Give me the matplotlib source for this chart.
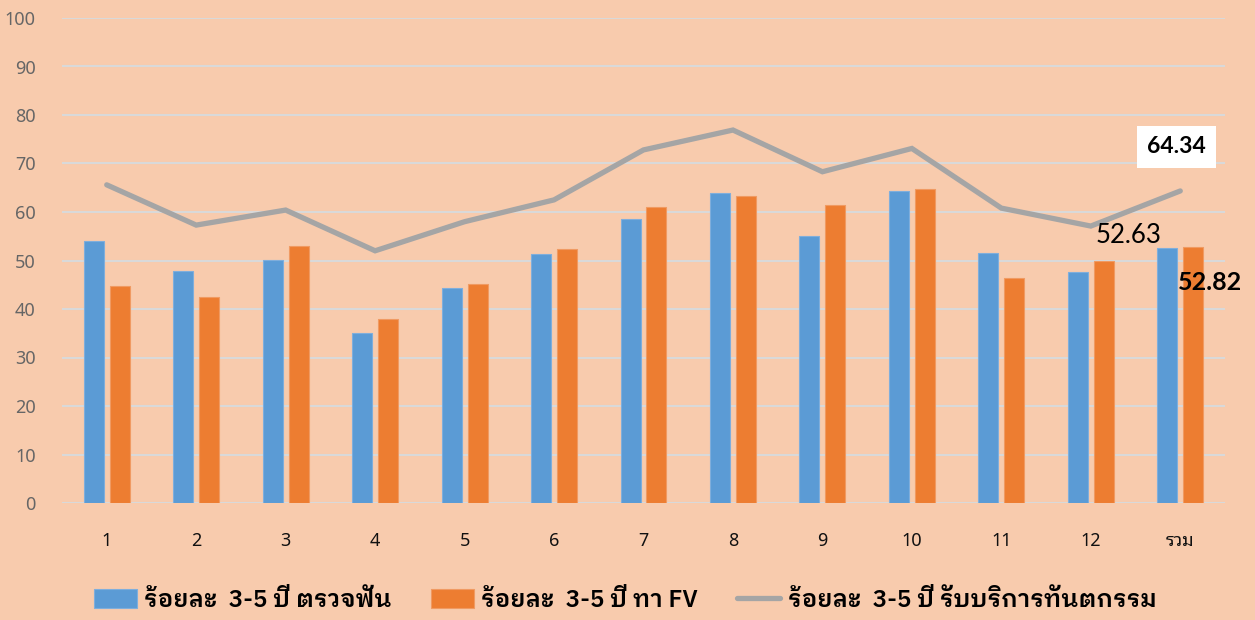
import numpy as np
import matplotlib
matplotlib.use("Agg")
import matplotlib.pyplot as plt

plt.rcParams['font.family'] = ['Noto Sans Thai Looped', 'Noto Sans', 'DejaVu Sans']

categories = ['1', '2', '3', '4', '5', '6', '7', '8', '9', '10', '11', '12', 'รวม']
checkup = [54.0, 47.8, 50.1, 35.1, 44.3, 51.3, 58.6, 63.9, 55.0, 64.3, 51.5, 47.6, 52.63]
fv = [44.8, 42.4, 52.9, 37.9, 45.2, 52.3, 61.0, 63.4, 61.4, 64.7, 46.4, 50.0, 52.82]
service = [65.6, 57.3, 60.4, 52.0, 58.0, 62.5, 72.8, 76.9, 68.3, 73.1, 60.8, 57.1, 64.34]
names = ['ร้อยละ  3-5 ปี ตรวจฟัน', 'ร้อยละ  3-5 ปี ทา FV', 'ร้อยละ  3-5 ปี รับบริการทันตกรรม']

bg = '#F8CBAD'
blue = '#5B9BD5'
orange = '#ED7D31'
grey = '#A5A5A5'

fig = plt.figure(figsize=(12.55, 6.2), dpi=100, facecolor=bg)
ax = fig.add_axes([62/1255, 117/620, 1163/1255, 485/620])
ax.set_facecolor(bg)

x = np.arange(len(categories))
w = 0.223
off = 0.145
b1 = ax.bar(x - off, checkup, w, color=blue, edgecolor='#7FAEDC', linewidth=0.8, zorder=2, label=names[0])
b2 = ax.bar(x + off, fv, w, color=orange, edgecolor='#F09A62', linewidth=0.8, zorder=2, label=names[1])
l3, = ax.plot(x, service, color=grey, linewidth=3.8, solid_capstyle='round', solid_joinstyle='miter',
              zorder=3, label=names[2])

ax.set_xlim(-0.5, len(categories) - 0.5)
ax.set_ylim(0, 100)
ax.set_yticks(np.arange(0, 101, 10))
ax.set_xticks(x)
ax.set_xticklabels(categories)
ax.yaxis.grid(True, color='#D9D9D9', linewidth=1.5, zorder=0)
ax.set_axisbelow(True)
for s in ax.spines.values():
    s.set_visible(False)
ax.tick_params(axis='y', length=0, pad=19, labelsize=13, labelcolor='#666666')
ax.tick_params(axis='x', length=0, pad=21, labelsize=13, labelcolor='#111111')

# data labels on the last category
num_font = ['Lato', 'DejaVu Sans']
i = len(categories) - 1
ax.annotate(f'{checkup[i]:.2f}', (x[i] - off, checkup[i]), xytext=(-39, 0),
            textcoords='offset pixels', ha='center', va='bottom', fontsize=18.5,
            family=num_font, color='black')
ax.annotate(f'{fv[i]:.2f}', (x[i] + off, fv[i]), xytext=(17, -36),
            textcoords='offset pixels', ha='center', va='center', fontsize=18,
            family=num_font, fontweight='bold', color='black')
ax.annotate(f'{service[i]:.2f}', (x[i], service[i]), xytext=(-4, 44),
            textcoords='offset pixels', ha='center', va='center', fontsize=16.5,
            family=num_font, fontweight='bold', color='black',
            bbox=dict(boxstyle='square,pad=0.45', facecolor='white', edgecolor='none'))

fig.legend(handles=[b1, b2, l3], loc='center', bbox_to_anchor=(0.498, 0.032), ncol=3,
           frameon=False,
           prop={'family': ['IBM Plex Sans Thai Looped', 'Noto Sans'], 'weight': 'semibold', 'size': 17.4},
           handlelength=1.8, handleheight=0.8, handletextpad=0.3, columnspacing=1.6)

fig.savefig('out.png', facecolor=bg)
